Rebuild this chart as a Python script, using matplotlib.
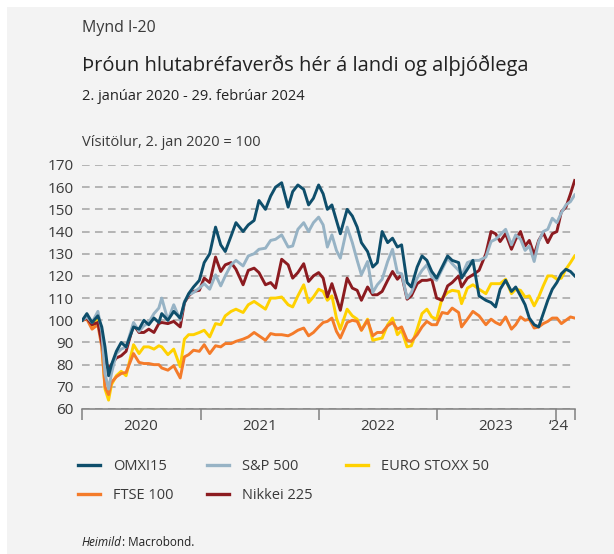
import matplotlib
matplotlib.use("Agg")
import matplotlib.pyplot as plt
from matplotlib.patches import Rectangle
from matplotlib.lines import Line2D
import pandas as pd

# semi-monthly reading points
dates = [
    "2020-01-02", "2020-01-16", "2020-02-01", "2020-02-19", "2020-03-02", "2020-03-12",
    "2020-03-23", "2020-04-01", "2020-04-16", "2020-05-01", "2020-05-16", "2020-06-08",
    "2020-06-25", "2020-07-10", "2020-07-25", "2020-08-10", "2020-08-25", "2020-09-03",
    "2020-09-22", "2020-10-10", "2020-10-30", "2020-11-12", "2020-11-25", "2020-12-10",
    "2020-12-28", "2021-01-12", "2021-01-29", "2021-02-16", "2021-03-04", "2021-03-18",
    "2021-04-05", "2021-04-20", "2021-05-12", "2021-05-28", "2021-06-15", "2021-06-30",
    "2021-07-20", "2021-08-05", "2021-08-20", "2021-09-08", "2021-09-28", "2021-10-12",
    "2021-10-28", "2021-11-15", "2021-11-30", "2021-12-15", "2021-12-31", "2022-01-14",
    "2022-01-27", "2022-02-10", "2022-02-24", "2022-03-08", "2022-03-29", "2022-04-14",
    "2022-04-29", "2022-05-12", "2022-05-31", "2022-06-16", "2022-06-30", "2022-07-15",
    "2022-08-01", "2022-08-16", "2022-08-31", "2022-09-13", "2022-09-30", "2022-10-13",
    "2022-10-31", "2022-11-15", "2022-11-30", "2022-12-15", "2022-12-30", "2023-01-16",
    "2023-02-02", "2023-02-16", "2023-03-08", "2023-03-17", "2023-04-04", "2023-04-21",
    "2023-05-10", "2023-05-31", "2023-06-16", "2023-06-30", "2023-07-14", "2023-07-31",
    "2023-08-18", "2023-08-31", "2023-09-15", "2023-09-29", "2023-10-12", "2023-10-27",
    "2023-11-10", "2023-11-24", "2023-12-08", "2023-12-22", "2024-01-05", "2024-01-19",
    "2024-02-02", "2024-02-16", "2024-02-29",
]

omxi15 = [
    100, 103, 99, 102, 97, 88, 75, 80, 86, 90, 88, 97,
    96, 100, 98, 101, 99, 103, 100, 104, 101, 108, 112, 115,
    118, 126, 130, 142, 134, 131, 138, 144, 140, 143, 145, 154,
    150, 156, 160, 162, 151, 158, 161, 159, 152, 155, 161, 157,
    150, 152, 145, 139, 150, 147, 142, 135, 131, 124, 126, 140,
    135, 137, 133, 134, 117, 115, 124, 129, 127, 122, 119, 124,
    129, 127, 126, 119, 123, 127, 111, 109, 108, 106, 114, 118,
    113, 115, 111, 107, 101, 98, 97, 103, 109, 114, 117, 121,
    123, 122, 120,
]

sp500 = [
    100, 101.5, 99, 104, 95, 76, 69, 76, 85, 87, 88, 99,
    95, 97.5, 99, 103, 105.5, 110, 100, 107, 100, 108.5, 111.5, 112.5,
    114.5, 116.5, 114, 120.5, 115.5, 120, 125, 127, 124.5, 129, 130, 132,
    132.5, 136, 136.5, 138.5, 133, 133.5, 141, 144, 140, 144, 146.5, 143,
    133, 138.5, 131.5, 128, 142, 135, 127, 120.5, 126.5, 112.5, 116, 118.5,
    126.5, 132, 121.5, 121, 110, 112.5, 119, 122.5, 125, 119.5, 118, 123,
    128, 125.5, 122.5, 120, 126, 127, 127, 128.5, 135.5, 136.5, 138.5, 141,
    134, 138.5, 136.5, 131.5, 133.5, 126.5, 135.5, 140, 141, 146, 144, 148.5,
    152, 153.5, 156.5,
]

eurostoxx50 = [
    100, 101, 97, 102, 89, 69, 64, 71, 75, 77, 75, 89,
    85, 88, 88, 87, 88.5, 88, 84.5, 87, 79, 91.5, 93.5, 93.5,
    94.5, 95.5, 92.5, 98.5, 98, 102, 104, 105, 103.5, 107, 108.5, 107,
    105, 110, 110, 110.5, 107, 106, 111, 116, 108, 110.5, 114, 113,
    109, 111, 101, 96, 105, 102, 100.5, 95.5, 100.5, 91, 91.5, 92,
    98, 101, 93.5, 95.5, 88, 88.5, 96, 103, 105, 101.5, 100.5, 110,
    112.5, 113.5, 113, 107.5, 114.5, 116, 114, 112, 116.5, 116.5, 116.5, 118.5,
    112, 114, 113.5, 110.5, 111, 106.5, 110.5, 115.5, 120, 120, 118.5, 119,
    123, 126, 129,
]

ftse100 = [
    100, 100.5, 96, 98, 88, 70, 66.5, 72, 74.5, 76, 76.5, 85,
    81, 80.5, 80.5, 80, 80, 78.5, 77.5, 79.5, 74, 83.5, 84.5, 86.5,
    86, 89, 85, 88.5, 88, 89.5, 89.5, 90.5, 91.5, 92.5, 94.5, 93,
    91, 94, 93.5, 93.5, 93, 94, 95.5, 96.5, 93, 94.5, 97, 99,
    99.5, 101, 95, 92, 99, 100, 99.5, 95.5, 100, 93, 94.5, 94.5,
    97.5, 99, 96, 97, 91, 90.5, 93.5, 97, 99.5, 98, 98, 103.5,
    103, 105.5, 103.5, 97, 100.5, 104, 102, 98, 100.5, 99, 98, 101.5,
    96, 98, 101.5, 100, 100.5, 96.5, 97, 98.5, 99.5, 101, 101, 98.5,
    100, 101.5, 101,
]

nikkei225 = [
    100, 101, 98, 99, 90, 82, 78, 80, 83, 84, 86, 98,
    94.5, 94.5, 96, 94.5, 98.5, 99, 98.5, 99.5, 97, 108, 111, 113,
    113.5, 119, 117, 128.5, 122, 125, 126, 123, 116, 122.5, 123.5, 121.5,
    116, 117, 114.5, 127.5, 125, 119, 121.5, 125.5, 117.5, 120, 121.5, 119,
    110.5, 116.5, 110, 104.5, 119, 114.5, 113.5, 109, 115, 111.5, 111.5, 113,
    118, 122, 118.5, 120.5, 109.5, 111, 116.5, 118, 118, 118.5, 110, 109,
    115.5, 117, 120, 115, 119, 120.5, 122.5, 130, 140, 139, 135.5, 139,
    132, 136.5, 140, 133.5, 136, 129.5, 136, 139.5, 135, 139, 140, 149,
    151, 157, 163,
]

series = [
    ("EURO STOXX 50", eurostoxx50, "#ffd100"),
    ("FTSE 100", ftse100, "#f47b2a"),
    ("Nikkei 225", nikkei225, "#8c1b20"),
    ("S&P 500", sp500, "#97b3c5"),
    ("OMXI15", omxi15, "#0e4e6b"),
]
legend_order = ["OMXI15", "FTSE 100", "S&P 500", "Nikkei 225", "EURO STOXX 50"]

year_ticks = ["2020-01-01", "2021-01-01", "2022-01-01", "2023-01-01", "2024-01-01", "2024-03-01"]
year_label_pos = ["2020-07-01", "2021-07-01", "2022-07-01", "2023-07-01", "2024-01-12"]
year_labels = ["2020", "2021", "2022", "2023", "\u201824"]

bg = "#f3f3f3"
txt = "#3a3a3a"
plt.rcParams["font.family"] = ["Open Sans", "DejaVu Sans"]

W, H = 614, 554
fig = plt.figure(figsize=(W / 100, H / 100), dpi=100, facecolor="white")
fig.patches.append(Rectangle((7 / W, 0), 1, 1 - 7 / H, transform=fig.transFigure,
                             facecolor=bg, edgecolor="none", zorder=-10))

ax = fig.add_axes([82 / W, 1 - 409 / H, (575 - 82) / W, (409 - 165) / H])
ax.set_facecolor("none")

x = pd.to_datetime(dates)
colors = {}
for name, vals, col in series:
    ax.plot(x, vals, color=col, lw=2.1, solid_joinstyle="round")
    colors[name] = col

ax.set_xlim(pd.Timestamp("2020-01-01"), pd.Timestamp("2024-03-01"))
ax.set_ylim(60, 170)
ax.set_yticks(range(60, 171, 10))
ax.yaxis.grid(True, linestyle=(0, (5, 3.5)), color="#a3a3a3", lw=1.1)
ax.set_axisbelow(True)
ax.tick_params(axis="y", length=0, pad=6, labelsize=11, labelcolor=txt)

ax.set_xticks(pd.to_datetime(year_ticks))
ax.set_xticklabels([""] * len(year_ticks))
ax.tick_params(axis="x", which="major", length=8, width=1.1, color="#808080")
ax.set_xticks(pd.to_datetime(year_label_pos), minor=True)
ax.set_xticklabels(year_labels, minor=True)
ax.tick_params(axis="x", which="minor", length=0, pad=7, labelsize=11, labelcolor=txt)

for s in ["left", "top", "right"]:
    ax.spines[s].set_visible(False)
ax.spines["bottom"].set_color("#808080")
ax.spines["bottom"].set_linewidth(1.1)

fig.text(82 / W, 1 - 28 / H, "Mynd I-20", fontsize=11.5, color=txt, va="center")
fig.text(82 / W, 1 - 66 / H, "Þróun hlutabréfaverðs hér á landi og alþjóðlega",
         fontsize=14.5, color="#222222", va="center")
fig.text(82 / W, 1 - 96 / H, "2. janúar 2020 - 29. febrúar 2024", fontsize=10.5,
         color="#222222", va="center")
fig.text(82 / W, 1 - 143 / H, "Vísitölur, 2. jan 2020 = 100", fontsize=10.5,
         color=txt, va="center")

handles = [Line2D([], [], color=colors[n], lw=2.4) for n in legend_order]
fig.legend(handles, legend_order, loc="upper left", bbox_to_anchor=(78 / W, 1 - 459 / H),
           ncol=3, frameon=False, fontsize=10.5, handlelength=1.5, handletextpad=0.9,
           columnspacing=2.3, labelspacing=0.95, borderpad=0, borderaxespad=0,
           labelcolor=txt)

t1 = fig.text(82 / W, 1 - 542 / H, "Heimild", fontsize=8.5, style="italic",
              color="#222222", va="center")
fig.canvas.draw()
bb = t1.get_window_extent()
fig.text(bb.x1 / W, 1 - 542 / H, ": Macrobond.", fontsize=8.5, color="#222222", va="center")

fig.savefig("out.png", dpi=100, facecolor=fig.get_facecolor())
